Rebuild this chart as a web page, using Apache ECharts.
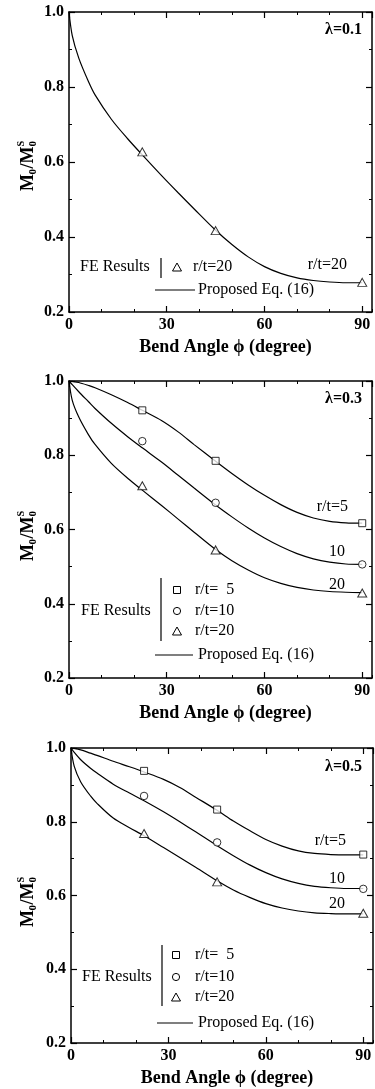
<!DOCTYPE html>
<html><head><meta charset="utf-8">
<script src="https://cdn.jsdelivr.net/npm/echarts@6/dist/echarts.min.js"></script>
<style>html,body{margin:0;padding:0;background:#fff}#c{width:375px;height:1089px}</style>
</head><body><div id="c"></div>
<script>
// ---- data ----
const xTicks = [0, 30, 60, 90];
const yTicks = [0.2, 0.4, 0.6, 0.8, 1.0];
const feAngles = [22.5, 45, 90];
const curveAngles = [0, 1, 3, 6, 8, 13, 18, 22.5, 28.5, 33.5, 38.5, 45, 50, 55, 60, 65, 70, 75, 80, 85, 90];

// lambda = 0.1
const l01_fe_rt20 = [0.627, 0.417, 0.279];
const l01_eq_rt20 = [1.0, 0.937, 0.877, 0.814, 0.779, 0.714, 0.662, 0.619, 0.563, 0.518, 0.474, 0.418, 0.380, 0.347, 0.321, 0.303, 0.291, 0.284, 0.280, 0.278, 0.278];

// lambda = 0.3
const l03_fe_rt5 = [0.921, 0.785, 0.617];
const l03_fe_rt10 = [0.838, 0.672, 0.506];
const l03_fe_rt20 = [0.718, 0.545, 0.429];
const l03_eq_rt5 = [1.0, 0.999, 0.996, 0.988, 0.982, 0.963, 0.942, 0.921, 0.893, 0.863, 0.828, 0.784, 0.751, 0.720, 0.692, 0.667, 0.646, 0.631, 0.622, 0.618, 0.617];
const l03_eq_rt10 = [1.0, 0.990, 0.971, 0.944, 0.926, 0.886, 0.850, 0.820, 0.781, 0.746, 0.711, 0.666, 0.634, 0.604, 0.577, 0.554, 0.535, 0.521, 0.512, 0.507, 0.506];
const l03_eq_rt20 = [1.0, 0.948, 0.903, 0.855, 0.829, 0.778, 0.738, 0.706, 0.664, 0.628, 0.592, 0.546, 0.516, 0.491, 0.470, 0.455, 0.444, 0.437, 0.433, 0.431, 0.430];

// lambda = 0.5
const l05_fe_rt5 = [0.938, 0.833, 0.711];
const l05_fe_rt10 = [0.870, 0.744, 0.618];
const l05_fe_rt20 = [0.768, 0.637, 0.552];
const l05_eq_rt5 = [1.0, 0.999, 0.995, 0.986, 0.980, 0.964, 0.949, 0.935, 0.915, 0.893, 0.866, 0.831, 0.802, 0.776, 0.752, 0.734, 0.721, 0.714, 0.711, 0.710, 0.710];
const l05_eq_rt10 = [1.0, 0.988, 0.968, 0.945, 0.932, 0.902, 0.878, 0.857, 0.827, 0.800, 0.772, 0.735, 0.708, 0.683, 0.662, 0.645, 0.633, 0.625, 0.621, 0.619, 0.619];
const l05_eq_rt20 = [1.0, 0.950, 0.908, 0.870, 0.850, 0.810, 0.784, 0.762, 0.730, 0.703, 0.676, 0.640, 0.615, 0.595, 0.578, 0.566, 0.558, 0.553, 0.551, 0.550, 0.550];

const lambdaLabels = ['λ=0.1', 'λ=0.3', 'λ=0.5'];
const xTitle = 'Bend Angle ϕ (degree)';
const legendFE = 'FE Results';
const legendEq = 'Proposed Eq. (16)';

// ---- layout / style ----
const FONT = '"Liberation Serif", "Times New Roman", serif';
const X_MAX = 93;
const xStep = xTicks[1] - xTicks[0];
const yStep = +(yTicks[1] - yTicks[0]).toFixed(3);
const grids = [
  {left: 69, top: 12, width: 303, height: 300},
  {left: 69, top: 381, width: 303, height: 297},
  {left: 71, top: 748, width: 302, height: 295}
];
const panels = [
  {curves: [{eq: l01_eq_rt20, fe: l01_fe_rt20, sym: 'triangle'}]},
  {curves: [{eq: l03_eq_rt5, fe: l03_fe_rt5, sym: 'rect'}, {eq: l03_eq_rt10, fe: l03_fe_rt10, sym: 'circle'}, {eq: l03_eq_rt20, fe: l03_fe_rt20, sym: 'triangle'}]},
  {curves: [{eq: l05_eq_rt5, fe: l05_fe_rt5, sym: 'rect'}, {eq: l05_eq_rt10, fe: l05_fe_rt10, sym: 'circle'}, {eq: l05_eq_rt20, fe: l05_fe_rt20, sym: 'triangle'}]}
];
const symSize = {triangle: [9, 8], rect: 7, circle: 7.5};

const black = '#000';
const lineAxis = {show: true, onZero: false, lineStyle: {color: black, width: 1.5}};
const noLine = {show: false, onZero: false};
const tickMajor = {show: true, inside: true, length: 6, lineStyle: {color: black, width: 1.2}};
const tickMinor = {show: true, inside: true, length: 3, lineStyle: {color: black, width: 1}};
const labelStyle = {color: black, fontFamily: FONT, fontWeight: 'bold', fontSize: 16};

const xAxis = [], yAxis = [], series = [];
grids.forEach((g, i) => {
  const base = {gridIndex: i, type: 'value', min: xTicks[0], max: X_MAX, splitLine: {show: false}};
  xAxis.push(
    {...base, position: 'bottom', interval: xStep, axisLine: lineAxis, axisTick: tickMajor,
      axisLabel: {...labelStyle, margin: 5, showMaxLabel: false, showMinLabel: true},
      name: xTitle, nameLocation: 'middle', nameGap: 26,
      nameTextStyle: {color: black, fontFamily: FONT, fontWeight: 'bold', fontSize: 18, padding: [0, 0, 0, 10]}},
    {...base, position: 'bottom', interval: xStep / 3, axisLine: noLine, axisTick: tickMinor, axisLabel: {show: false}},
    {...base, position: 'top', interval: xStep, axisLine: lineAxis, axisTick: tickMajor, axisLabel: {show: false}},
    {...base, position: 'top', interval: xStep / 3, axisLine: noLine, axisTick: tickMinor, axisLabel: {show: false}}
  );
  const yb = {gridIndex: i, type: 'value', min: yTicks[0], max: yTicks[yTicks.length - 1], interval: yStep,
    splitLine: {show: false}, axisLine: lineAxis, axisTick: tickMajor,
    minorTick: {show: true, splitNumber: 2, length: 3, lineStyle: {color: black, width: 1}}};
  yAxis.push(
    {...yb, position: 'left', axisLabel: {...labelStyle, margin: 5, formatter: v => v.toFixed(1)}},
    {...yb, position: 'right', axisLabel: {show: false}}
  );
  panels[i].curves.forEach(c => {
    series.push({
      type: 'line', xAxisIndex: 4 * i, yAxisIndex: 2 * i,
      data: curveAngles.map((a, k) => [a, c.eq[k]]),
      showSymbol: false, smooth: 0.3, silent: true,
      lineStyle: {color: black, width: 1.2}, z: 2
    });
    series.push({
      type: 'scatter', xAxisIndex: 4 * i, yAxisIndex: 2 * i,
      data: feAngles.map((a, k) => [a, c.fe[k]]),
      symbol: c.sym, symbolSize: symSize[c.sym], silent: true,
      itemStyle: {color: '#fff', borderColor: black, borderWidth: 1}, z: 3
    });
  });
});

// ---- annotations ----
const graphic = [];
function txt(x, y, text, o = {}) {
  graphic.push({type: 'text', x, y, z: 10, silent: true,
    style: {text, fill: black, font: (o.bold ? 'bold ' : '') + (o.size || 16) + 'px ' + FONT,
      align: o.align || 'left', verticalAlign: 'middle'}});
}
function vline(x, y1, y2) {
  graphic.push({type: 'line', z: 10, silent: true, shape: {x1: x, y1, x2: x, y2}, style: {stroke: black, lineWidth: 1.2}});
}
function hline(x1, x2, y) {
  graphic.push({type: 'line', z: 10, silent: true, shape: {x1, y1: y, x2, y2: y}, style: {stroke: black, lineWidth: 1.2}});
}
function marker(sym, x, y) {
  const st = {fill: '#fff', stroke: black, lineWidth: 1};
  if (sym === 'triangle') graphic.push({type: 'polygon', z: 10, silent: true, shape: {points: [[x, y - 4], [x + 4.5, y + 4], [x - 4.5, y + 4]]}, style: st});
  else if (sym === 'rect') graphic.push({type: 'rect', z: 10, silent: true, shape: {x: x - 3.5, y: y - 3.5, width: 7, height: 7}, style: st});
  else graphic.push({type: 'circle', z: 10, silent: true, shape: {cx: x, cy: y, r: 3.6}, style: st});
}
function yTitle(cx, cy) {
  const f = s => 'bold ' + s + 'px ' + FONT;
  graphic.push({type: 'group', x: cx, y: cy, rotation: Math.PI / 2, silent: true, z: 10, children: [
    {type: 'text', x: -25, y: 0, style: {text: 'M', font: f(18), fill: black, verticalAlign: 'middle'}},
    {type: 'text', x: -8.5, y: 5, style: {text: '0', font: f(11), fill: black, verticalAlign: 'middle'}},
    {type: 'text', x: -2.5, y: 0, style: {text: '/', font: f(18), fill: black, verticalAlign: 'middle'}},
    {type: 'text', x: 2.5, y: 0, style: {text: 'M', font: f(18), fill: black, verticalAlign: 'middle'}},
    {type: 'text', x: 19.5, y: 5, style: {text: '0', font: f(11), fill: black, verticalAlign: 'middle'}},
    {type: 'text', x: 19.5, y: -7, style: {text: 'S', font: f(10), fill: black, verticalAlign: 'middle'}}
  ]});
}

// panel 1
yTitle(28, 166);
txt(362, 30, lambdaLabels[0], {bold: true, align: 'right'});
txt(347, 265, 'r/t=20', {align: 'right'});
txt(80, 267, legendFE);
vline(161, 258, 278);
marker('triangle', 177, 267);
txt(193, 267, 'r/t=20');
hline(155, 195, 290);
txt(198, 290, legendEq);

// panel 2
yTitle(28, 536);
txt(362, 399, lambdaLabels[1], {bold: true, align: 'right'});
txt(348, 507, 'r/t=5', {align: 'right'});
txt(345, 552, '10', {align: 'right'});
txt(345, 585, '20', {align: 'right'});
txt(81, 611, legendFE);
vline(161, 578, 641);
marker('rect', 177, 590); marker('circle', 177, 611); marker('triangle', 177, 631);
txt(195, 590, 'r/t=  5'); txt(195, 611, 'r/t=10'); txt(195, 631, 'r/t=20');
hline(155, 193, 655);
txt(198, 655, legendEq);

// panel 3
yTitle(28, 902);
txt(362, 767, lambdaLabels[2], {bold: true, align: 'right'});
txt(346, 841, 'r/t=5', {align: 'right'});
txt(345, 879, '10', {align: 'right'});
txt(345, 904, '20', {align: 'right'});
txt(82, 977, legendFE);
vline(162, 945, 1006);
marker('rect', 176, 955); marker('circle', 176, 977); marker('triangle', 176, 997);
txt(195, 955, 'r/t=  5'); txt(195, 977, 'r/t=10'); txt(195, 997, 'r/t=20');
hline(157, 193, 1023);
txt(198, 1023, legendEq);

const chart = echarts.init(document.getElementById('c'), null, {renderer: 'canvas'});
chart.setOption({
  animation: false,
  backgroundColor: '#fff',
  grid: grids.map(g => ({...g, containLabel: false})),
  xAxis, yAxis, series, graphic
});
</script>
</body></html>
